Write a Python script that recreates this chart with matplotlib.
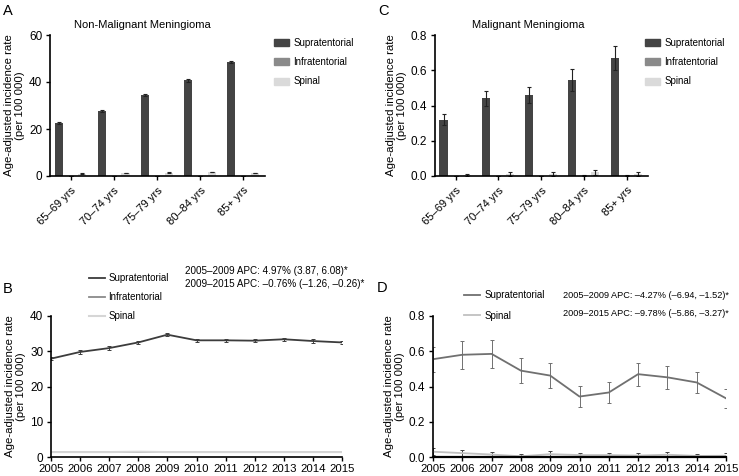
import numpy as np
import matplotlib
matplotlib.use("Agg")
import matplotlib.pyplot as plt
from matplotlib.patches import Patch
from matplotlib.lines import Line2D

plt.rcParams['font.family'] = ['Liberation Sans', 'DejaVu Sans']
plt.rcParams['axes.linewidth'] = 1.2
plt.rcParams['xtick.major.width'] = 1.0
plt.rcParams['ytick.major.width'] = 1.0
plt.rcParams['xtick.major.size'] = 3
plt.rcParams['ytick.major.size'] = 3
plt.rcParams['ytick.major.pad'] = 2.5

# age groups (panels A, C)
ages = ['65–69 yrs', '70–74 yrs', '75–79 yrs', '80–84 yrs', '85+ yrs']

# A: non-malignant meningioma
a_supra = [22.5, 27.8, 34.6, 40.7, 48.5]
a_supra_err = [0.3, 0.4, 0.5, 0.6, 0.6]
a_infra = [0, 0, 0, 0, 0]
a_infra_err = [0, 0, 0, 0, 0]
a_spinal = [1.0, 1.2, 1.4, 1.7, 1.3]
a_spinal_err = [0.1, 0.1, 0.1, 0.15, 0.15]

# C: malignant meningioma
c_supra = [0.32, 0.44, 0.46, 0.545, 0.67]
c_supra_err = [0.033, 0.04, 0.045, 0.06, 0.07]
c_infra = [0, 0, 0, 0.002, 0.002]
c_infra_err = [0, 0, 0, 0.003, 0.003]
c_spinal = [0.005, 0.012, 0.012, 0.02, 0.012]
c_spinal_err = [0.006, 0.01, 0.01, 0.013, 0.01]

# B / D: trends by year
years = list(range(2005, 2016))
b_supra = [27.9, 29.8, 30.9, 32.5, 34.7, 33.1, 33.1, 33.0, 33.4, 32.9, 32.5]
b_supra_err = [0.5] * 11
b_infra = [1.3] * 11
b_spinal = [1.4, 1.4, 1.4, 1.5, 1.4, 1.4, 1.4, 1.4, 1.4, 1.4, 1.4]

d_supra = [0.555, 0.58, 0.585, 0.49, 0.462, 0.343, 0.366, 0.47, 0.452, 0.423, 0.333]
d_supra_err = [0.07, 0.08, 0.08, 0.07, 0.07, 0.06, 0.06, 0.065, 0.065, 0.06, 0.055]
d_spinal = [0.03, 0.022, 0.014, 0.004, 0.016, 0.011, 0.011, 0.008, 0.013, 0.006, 0.007]
d_spinal_err = [0.02, 0.02, 0.015, 0.012, 0.016, 0.014, 0.014, 0.012, 0.014, 0.01, 0.014]

c_dark = '#444444'
c_mid = '#8a8a8a'
c_light = '#dadada'

W, H = 739, 476
fig = plt.figure(figsize=(W / 100, H / 100), dpi=100)

def rect(l, r, t, b):
    return [l / W, 1 - b / H, (r - l) / W, (b - t) / H]

ylab = 'Age-adjusted incidence rate\n(per 100 000)'
ekw = dict(ecolor='#222222', elinewidth=0.8, capsize=1.5, capthick=0.8)

def set_ylab(ax):
    ax.set_ylabel(ylab, fontsize=8.2, labelpad=3, linespacing=1.1)

def bars(ax, s, se, i, ie, sp, spe, ylim, ticks, fmt):
    x = np.arange(len(ages))
    ax.bar(x - 0.28, s, 0.19, yerr=se, color=c_dark, error_kw=ekw)
    ax.bar(x, i, 0.19, yerr=ie, color=c_mid, error_kw=ekw)
    ax.bar(x + 0.27, sp, 0.19, yerr=spe, color=c_light, error_kw=ekw)
    ax.set_xlim(-0.48, 4.5)
    ax.set_ylim(*ylim)
    ax.set_yticks(ticks)
    ax.set_yticklabels([fmt % t for t in ticks], fontsize=8.5)
    ax.set_xticks(x)
    ax.set_xticklabels(ages, rotation=45, ha='right', rotation_mode='anchor', fontsize=8)
    ax.spines[['top', 'right']].set_visible(False)
    set_ylab(ax)

axA = fig.add_axes(rect(50, 265, 35, 176))
bars(axA, a_supra, a_supra_err, a_infra, a_infra_err, a_spinal, a_spinal_err,
     (0, 60), [0, 20, 40, 60], '%d')
axA.set_title('Non-Malignant Meningioma', fontsize=8, pad=5, x=0.43)

axC = fig.add_axes(rect(435, 648, 35, 176))
bars(axC, c_supra, c_supra_err, c_infra, c_infra_err, c_spinal, c_spinal_err,
     (0, 0.8), [0, 0.2, 0.4, 0.6, 0.8], '%.1f')
axC.set_title('Malignant Meningioma', fontsize=8, pad=5, x=0.437)

patches = [Patch(color=c_dark), Patch(color=c_mid), Patch(color=c_light)]
names = ['Supratentorial', 'Infratentorial', 'Spinal']
for x0 in (274, 645):
    fig.legend(patches, names, loc='upper left', bbox_to_anchor=(x0 / W, 1 - 38 / H),
               frameon=False, fontsize=7, handlelength=1.55, handleheight=0.75,
               handletextpad=0.45, labelspacing=0.95, borderpad=0, borderaxespad=0)

# B
axB = fig.add_axes(rect(51, 342, 316, 457))
lkw = dict(elinewidth=0.7, capsize=1.5, capthick=0.7)
axB.plot(years, b_infra, color=c_mid, lw=1.3)
axB.plot(years, b_spinal, color='#d6d6d6', lw=1.5)
axB.errorbar(years, b_supra, yerr=b_supra_err, color='#3c3c3c', lw=1.3, **lkw)
axB.set_xlim(2005, 2015)
axB.set_ylim(0, 40)
axB.set_yticks([0, 10, 20, 30, 40])
axB.set_xticks(years)
axB.tick_params(axis='y', labelsize=8.5)
axB.tick_params(axis='x', labelsize=8.2, pad=1.8)
axB.spines[['top', 'right']].set_visible(False)
set_ylab(axB)
fig.legend([Line2D([], [], color='#3c3c3c', lw=1.3), Line2D([], [], color=c_mid, lw=1.3),
            Line2D([], [], color='#d6d6d6', lw=1.5)], names,
           loc='upper left', bbox_to_anchor=(89 / W, 1 - 273 / H), frameon=False, fontsize=7,
           handlelength=1.6, handletextpad=0.4, labelspacing=0.95, borderpad=0, borderaxespad=0)
fig.text(185 / W, 1 - 271 / H, '2005–2009 APC: 4.97% (3.87, 6.08)*', fontsize=7.1, va='center')
fig.text(185 / W, 1 - 284 / H, '2009–2015 APC: –0.76% (–1.26, –0.26)*', fontsize=7.1, va='center')

# D
axD = fig.add_axes(rect(433, 726, 316, 457))
axD.errorbar(years, d_spinal, yerr=d_spinal_err, color='#c0c0c0', lw=1.3,
             ecolor='#444444', **lkw)
axD.errorbar(years, d_supra, yerr=d_supra_err, color='#707070', lw=1.3, **lkw)
axD.set_xlim(2005, 2015)
axD.set_ylim(0, 0.8)
axD.set_yticks([0, 0.2, 0.4, 0.6, 0.8])
axD.set_yticklabels(['0.0', '0.2', '0.4', '0.6', '0.8'])
axD.set_xticks(years)
axD.tick_params(axis='y', labelsize=8.5)
axD.tick_params(axis='x', labelsize=8.2, pad=1.8)
axD.spines[['top', 'right']].set_visible(False)
axD.spines['bottom'].set_linewidth(1.6)
set_ylab(axD)
fig.legend([Line2D([], [], color='#707070', lw=1.3), Line2D([], [], color='#c0c0c0', lw=1.3)],
           ['Supratentorial', 'Spinal'], loc='upper left', bbox_to_anchor=(464 / W, 1 - 290 / H),
           frameon=False, fontsize=7, handlelength=1.6, handletextpad=0.5, labelspacing=1.1,
           borderpad=0, borderaxespad=0)
fig.text(563 / W, 1 - 296 / H, '2005–2009 APC: –4.27% (–6.94, –1.52)*', fontsize=6.6, va='center')
fig.text(563 / W, 1 - 314 / H, '2009–2015 APC: –9.78% (–5.86, –3.27)*', fontsize=6.6, va='center')

# panel letters
for lab, x, y in [('A', 3, 11), ('C', 378, 11), ('B', 3, 289), ('D', 377, 288)]:
    fig.text(x / W, 1 - y / H, lab, fontsize=10.5, va='center')

fig.savefig('out.png', dpi=100)
